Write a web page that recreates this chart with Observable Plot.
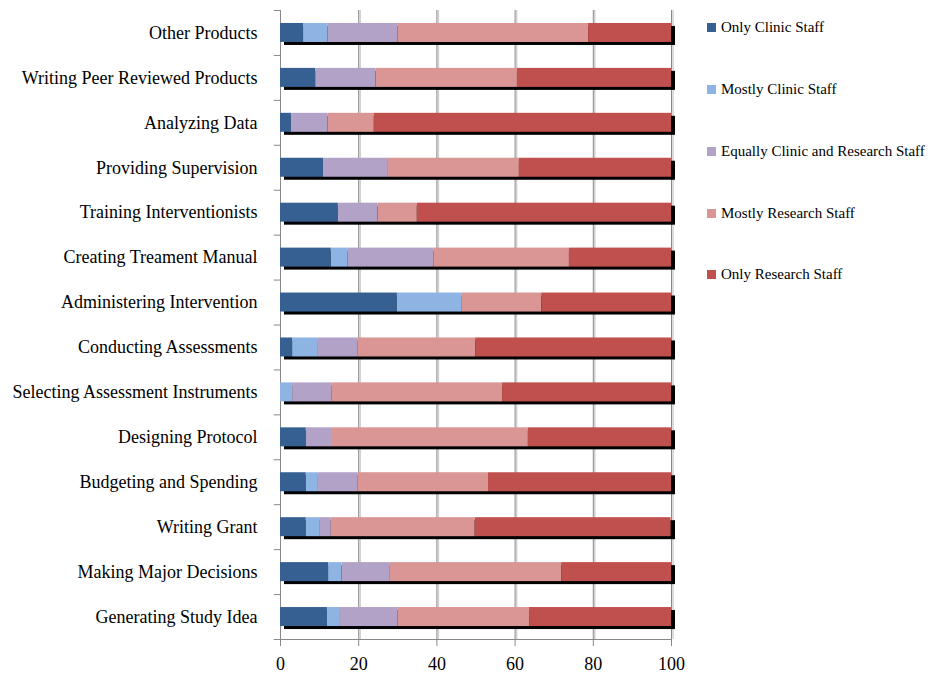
<!DOCTYPE html>
<html>
<head>
<meta charset="utf-8">
<script src="https://cdn.jsdelivr.net/npm/d3@7"></script>
<script src="https://cdn.jsdelivr.net/npm/@observablehq/plot@0.6"></script>
<style>
  html, body { margin: 0; padding: 0; background: #fff; }
  #wrap { position: relative; width: 933px; height: 675px; font-family: "Liberation Serif", "Times New Roman", serif; }
  #legend { position: absolute; left: 707px; top: 0; font-size: 15px; color: #000; }
  .item { position: absolute; left: 0; white-space: nowrap; display: flex; align-items: center; }
  .sw { width: 9px; height: 9px; margin-right: 5px; }
</style>
</head>
<body>
<div id="wrap"><div id="legend"></div></div>
<script>
const categories = [
  "Other Products",
  "Writing Peer Reviewed Products",
  "Analyzing Data",
  "Providing Supervision",
  "Training Interventionists",
  "Creating Treament Manual",
  "Administering Intervention",
  "Conducting Assessments",
  "Selecting Assessment Instruments",
  "Designing Protocol",
  "Budgeting and Spending",
  "Writing Grant",
  "Making Major Decisions",
  "Generating Study Idea"
];
const seriesNames = ["Only Clinic Staff", "Mostly Clinic Staff", "Equally Clinic and Research Staff", "Mostly Research Staff", "Only Research Staff"];
const seriesColors = ["#376092", "#8EB4E3", "#B3A2C7", "#D99694", "#C0504D"];
const onlyClinic     = [5.9, 9.0, 2.8, 11.0, 14.8, 13.0, 29.9, 3.1, 0.0, 6.6, 6.6, 6.6, 12.3, 12.0];
const mostlyClinic   = [6.2, 0.0, 0.0, 0.0, 0.0, 4.2, 16.6, 6.6, 3.1, 0.0, 3.1, 3.4, 3.4, 3.1];
const equally        = [18.0, 15.4, 9.3, 16.6, 10.1, 22.0, 0.0, 10.2, 10.0, 6.7, 10.2, 3.0, 12.4, 15.0];
const mostlyResearch = [48.7, 36.2, 11.9, 33.5, 10.1, 34.7, 20.3, 30.0, 43.7, 50.1, 33.3, 36.8, 43.8, 33.6];
const onlyResearch   = [21.2, 39.4, 76.0, 38.9, 65.0, 26.1, 33.2, 50.1, 43.2, 36.6, 46.8, 50.1, 28.1, 36.3];
const xTicks = [0, 20, 40, 60, 80, 100];

const seriesValues = [onlyClinic, mostlyClinic, equally, mostlyResearch, onlyResearch];
const rows = [];
seriesNames.forEach((s, si) => categories.forEach((c, ci) => rows.push({category: c, series: s, value: seriesValues[si][ci]})));
const totals = categories.map((c, i) => ({category: c, total: 100}));

const bandStep = (639 - 10) / categories.length;

const chart = Plot.plot({
  width: 933,
  height: 675,
  marginLeft: 280,
  marginRight: 262,
  marginTop: 10,
  marginBottom: 36,
  style: {fontFamily: '"Liberation Serif", "Times New Roman", serif', fontSize: "18px", background: "#fff", color: "#000"},
  x: {domain: [0, 100], ticks: xTicks, tickSize: 0, label: null},
  y: {domain: categories, paddingInner: 0.577, paddingOuter: 0.2885, round: false, label: null},
  color: {domain: seriesNames, range: seriesColors},
  marks: [
    // gridlines with light 3D shade
    Plot.ruleX(xTicks.filter(d => d > 0), {stroke: "#d0d0d0", strokeWidth: 1.5, dx: 1.5}),
    Plot.ruleX(xTicks.filter(d => d > 0), {stroke: "#888"}),
    // axis lines
    Plot.frame({anchor: "left", stroke: "#888"}),
    Plot.frame({anchor: "bottom", stroke: "#888"}),
    Plot.axisX({ticks: xTicks, tickSize: 7, stroke: "#888", tickPadding: 11, fontSize: 18}),
    // y boundary ticks
    Plot.ruleY(categories, {y: d => d, x1: -1.6, x2: 0, dy: -bandStep / 2, stroke: "#888", clip: false}),
    Plot.ruleY(categories.slice(-1), {y: d => d, x1: -1.6, x2: 0, dy: bandStep / 2, stroke: "#888", clip: false}),
    Plot.axisY({tickSize: 0, tickPadding: 23, fontSize: 18}),
    // bar shadows
    Plot.barX(totals, {y: "category", x1: 0, x2: "total", fill: "#000", dx: 4, dy: 3}),
    // stacked bars
    Plot.barX(rows, Plot.stackX({y: "category", x: "value", fill: "series", order: seriesNames}))
  ]
});
document.getElementById("wrap").prepend(chart);

const legend = document.getElementById("legend");
const legendY = [27, 89, 151, 213, 274];
seriesNames.forEach((s, i) => {
  const it = document.createElement("div");
  it.className = "item";
  it.style.top = (legendY[i] - 9) + "px";
  it.style.height = "18px";
  const sw = document.createElement("span");
  sw.className = "sw";
  sw.style.background = seriesColors[i];
  const tx = document.createElement("span");
  tx.textContent = s;
  it.appendChild(sw); it.appendChild(tx);
  legend.appendChild(it);
});
</script>
</body>
</html>
